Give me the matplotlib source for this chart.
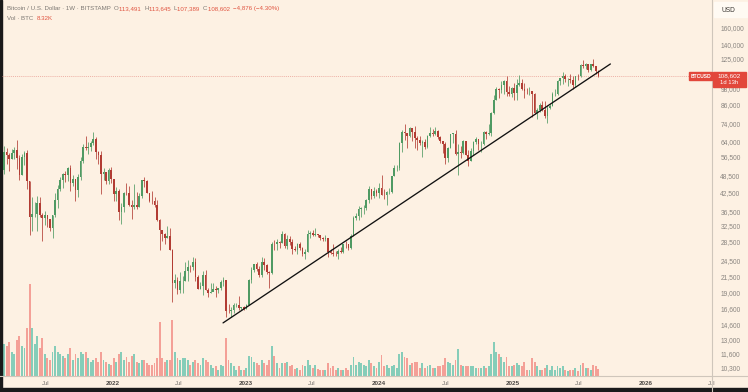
import numpy as np
import pandas as pd
import matplotlib
matplotlib.use("Agg")
import matplotlib.pyplot as plt
import matplotlib.dates as mdates

plt.rcParams['font.family'] = ['Liberation Sans', 'DejaVu Sans']

# ---------------- data (weekly BTC/USD, Bitstamp) ----------------
first_week = "2021-03-01"
first_open = 45200

closes = [
    # 2021 (from Mar 1)
    50950, 59000, 57500, 55800, 58200, 59800, 56200, 49000, 56600, 58200,
    46400, 34700, 35600, 35800, 39000, 35500, 34500, 35300, 34200, 31800,
    35400, 39900, 43800, 47000, 49300, 48800, 51700, 46000, 47300, 43200,
    48200, 54700, 61500, 60900, 61300, 63300, 65500, 58600, 57300, 49400,
    50100, 46700, 50800, 47300,
    # 2022
    41800, 43100, 36300, 37900, 42400, 42200, 38400, 37700, 38400, 37800,
    41300, 46800, 46400, 42200, 39700, 39500, 38500, 34000, 31300, 30300,
    29400, 29900, 26600, 20500, 21000, 19300, 20800, 20800, 22600, 23300,
    23200, 24300, 21500, 19550, 19990, 21800, 19400, 18800, 19050, 19450,
    19270, 19570, 20630, 20900, 16300, 16280, 16450, 17100, 17100, 16740,
    16840, 16610,
    # 2023
    17130, 20880, 22700, 23750, 22940, 21800, 24300, 23550, 22430, 22160,
    28000, 27990, 28460, 28330, 30300, 27590, 29250, 28440, 26920, 26750,
    28070, 27100, 25850, 26340, 30470, 30590, 30170, 30250, 30080, 29280,
    29050, 29300, 26190, 26010, 25870, 25840, 26530, 26260, 27980, 27930,
    27150, 29990, 34530, 35010, 37060, 37360, 37450, 39970, 43780, 41370,
    43000, 42280,
    # 2024
    43950, 41730, 41580, 42580, 42580, 48300, 51660, 51730, 63100, 68950,
    68400, 67200, 71300, 69400, 65700, 64950, 63100, 63900, 61500, 66900,
    68500, 67760, 69650, 66650, 64260, 62680, 55860, 60800, 68150, 68250,
    58100, 58700, 58400, 64200, 57300, 54800, 59200, 63600, 65600, 62800,
    62900, 69000, 67900, 68800, 80400, 89800, 97900, 97300, 101200, 104500,
    95100, 93700, 98300,
    # 2025
    94500, 101300, 102600, 97700, 96500, 96100, 96300, 94300, 80700, 82600,
    86100, 82400, 78400, 83800, 85200, 93700, 94300, 104100, 106500, 109000,
    105700, 105700, 105500, 101000, 108400, 108200, 119100, 117300, 119400, 114200,
    119300, 117500, 113491, 108602,
]

highs = [
    52600, 61700, 60600, 58500, 60200, 61200, 64800, 57500, 57900, 59500,
    59600, 46600, 40800, 39400, 41300, 41000, 36000, 36600, 35100, 34000,
    35400, 42200, 45000, 48100, 49500, 50500, 52000, 52900, 48800, 47400,
    49200, 56500, 62900, 67000, 63700, 64200, 69000, 66300, 59300, 59100,
    51900, 50000, 51900, 52000,
    47500, 44400, 43500, 38900, 42600, 45800, 44700, 39800, 45400, 42500,
    42400, 46900, 48200, 47000, 41500, 42900, 40800, 40000, 34400, 31300,
    30600, 32300, 31800, 26900, 21900, 21500, 22400, 21600, 24200, 24600,
    23700, 25200, 25000, 21800, 20600, 22500, 22800, 19700, 20400, 20500,
    19900, 19700, 21000, 21450, 21000, 17200, 16800, 17400, 17400, 18400,
    16900, 16950,
    17200, 21200, 23300, 23900, 24250, 23400, 25250, 25100, 23900, 22600,
    28500, 28900, 29100, 28700, 31000, 30500, 30000, 29800, 29100, 27600,
    28200, 28450, 27300, 26800, 31400, 31000, 31400, 31800, 30400, 30000,
    29700, 30200, 29500, 26800, 28100, 26400, 26900, 27400, 28000, 28600,
    27900, 30300, 35200, 35900, 38000, 37900, 38400, 40200, 44700, 43400,
    44300, 43800,
    45900, 49000, 43600, 42800, 43900, 48600, 52800, 52900, 64000, 70000,
    73800, 68000, 71800, 71300, 72800, 66800, 67200, 64700, 65500, 67700,
    71900, 70600, 71950, 70200, 66900, 63400, 63800, 61400, 68300, 68500,
    70000, 62700, 61800, 65000, 64500, 59800, 60600, 64100, 66500, 64800,
    64400, 69500, 69500, 73600, 81500, 93500, 99600, 98900, 104000, 105200,
    108300, 99900, 99200,
    102700, 106000, 109400, 106400, 102500, 98800, 99500, 96500, 95000, 84000,
    87500, 88800, 88500, 86000, 86400, 95700, 97900, 104800, 107100, 111900,
    110700, 106800, 110600, 108900, 108500, 110500, 119500, 123200, 120200, 120000,
    119400, 124400, 117600, 113645,
]

lows = [
    45000, 49300, 53300, 50400, 55500, 55600, 51500, 47000, 48800, 53000,
    43800, 30000, 31200, 34800, 31000, 34900, 28800, 32700, 32100, 31000,
    29300, 34900, 37500, 42800, 44000, 46300, 46500, 43000, 44700, 39600,
    40800, 47100, 53900, 59700, 58000, 59500, 62300, 55600, 53300, 42000,
    46800, 45600, 45600, 45700,
    39700, 39700, 34000, 32900, 36200, 41700, 38000, 34300, 37100, 37200,
    37600, 40500, 44200, 42100, 39200, 38600, 37700, 33700, 26700, 28700,
    28000, 29300, 26600, 17600, 19700, 18700, 18800, 18900, 20800, 20700,
    22400, 22700, 20800, 19500, 19500, 18500, 19300, 18200, 18800, 19100,
    18200, 18900, 19300, 20000, 15500, 16000, 15480, 16000, 16900, 16500,
    16400, 16400,
    16600, 17100, 20400, 22300, 22600, 21400, 21500, 22800, 21900, 19600,
    21900, 26600, 26600, 27200, 28200, 27100, 27000, 27700, 25800, 26400,
    25900, 26600, 25400, 24800, 26300, 29500, 29800, 29900, 29600, 28900,
    28600, 28700, 25200, 25800, 25400, 25400, 24900, 26000, 26000, 27200,
    26600, 26800, 29900, 33900, 34100, 34800, 35700, 36900, 39000, 40200,
    40500, 41400,
    40600, 41500, 40300, 38500, 41900, 42300, 48400, 50600, 50800, 59000,
    64600, 60800, 66600, 64500, 61000, 59700, 62400, 56500, 60200, 60700,
    66600, 66700, 67600, 65100, 63400, 58400, 53500, 54300, 60600, 63500,
    57200, 49000, 56100, 57800, 57200, 52500, 54600, 57600, 62700, 59800,
    58900, 62400, 65100, 67500, 66800, 80200, 89400, 90800, 94700, 94300,
    92300, 92500, 91500,
    89300, 89300, 100000, 97200, 91200, 94100, 93400, 78200, 80000, 76600,
    81300, 81600, 77100, 74500, 83100, 85100, 92800, 93400, 100700, 102100,
    103100, 100400, 102600, 98200, 99800, 105100, 107500, 115700, 114700, 112000,
    112700, 116800, 110700, 107389,
]

volumes_k = [
    45, 40, 38, 42, 30, 28, 45, 50, 38, 35, 60, 115, 60, 40, 50, 35, 48, 28, 22, 20,
    30, 38, 30, 28, 25, 22, 28, 35, 20, 28, 22, 30, 28, 30, 22, 18, 20, 22, 18, 30,
    20, 18, 15, 14,
    22, 18, 28, 30, 20, 24, 18, 25, 28, 18, 16, 20, 20, 16, 14, 14, 16, 22, 68, 22,
    18, 20, 20, 70, 30, 22, 20, 22, 22, 20, 14, 18, 20, 16, 14, 22, 20, 18, 14, 10,
    12, 8, 14, 12, 48, 20, 16, 12, 8, 12, 7, 8,
    10, 25, 24, 18, 16, 14, 20, 16, 14, 20, 38, 25, 16, 10, 16, 16, 18, 12, 14, 9,
    10, 8, 14, 12, 20, 14, 10, 14, 9, 8, 8, 7, 16, 10, 12, 8, 10, 8, 8, 10,
    8, 14, 24, 14, 18, 16, 14, 12, 20, 16, 12, 10,
    18, 26, 12, 14, 10, 12, 14, 10, 28, 30, 24, 22, 14, 16, 18, 18, 10, 16, 10, 12,
    14, 10, 10, 12, 12, 14, 22, 18, 16, 14, 20, 34, 14, 12, 12, 12, 12, 12, 10, 10,
    10, 12, 10, 12, 28, 42, 30, 28, 24, 18, 24, 12, 12,
    14, 16, 14, 12, 18, 8, 8, 22, 18, 12, 8, 8, 10, 14, 7, 12, 8, 12, 10, 12,
    8, 6, 8, 8, 10, 6, 14, 16, 10, 10, 8, 14, 12, 8.32,
]

y_ticks = [160000, 140000, 125000, 98000, 86000, 74000, 64000, 56500,
           48500, 42500, 36500, 32500, 28500, 24500, 21500, 19000, 16600,
           14600, 13000, 11600, 10300]
x_tick_dates = ["2021-07-01", "2022-01-01", "2022-07-01", "2023-01-01", "2023-07-01",
                "2024-01-01", "2024-07-01", "2025-01-01", "2025-07-01", "2026-01-01",
                "2026-07-01"]
x_tick_labels = ["Jul", "2022", "Jul", "2023", "Jul", "2024", "Jul", "2025", "Jul", "2026", "Jul"]

trend_dates = ["2022-10-30", "2025-09-27"]
trend_prices = [14820, 119700]

last_price = 108602
header_main = "Bitcoin / U.S. Dollar · 1W · BITSTAMP  "
header_ohlc = [("O", "113,491"), ("H", "113,645"), ("L", "107,389"), ("C", "108,602")]
header_change = "−4,876 (−4.30%)"
vol_label = "Vol · BTC  "
vol_value = "8.32K"

# ---------------- build ----------------
n = len(closes)
dates = pd.date_range(first_week, periods=n, freq="7D")
x = mdates.date2num(dates)
closes_a = np.array(closes, float)
opens_a = np.concatenate([[first_open], closes_a[:-1]])
highs_a = np.array(highs, float)
lows_a = np.array(lows, float)
vols = np.array(volumes_k, float)
up = closes_a >= opens_a

UP_C, DN_C = "#4f9a63", "#b23c33"
VUP_C, VDN_C = "#86cdb9", "#f4a097"
BG = "#fdf1e3"
TXT = "#8a8580"

W, H = 748, 392
fig = plt.figure(figsize=(W / 100, H / 100), dpi=100, facecolor=BG)

ax_l, ax_r, ax_t, ax_b = 2, 712, 0, 376
ax = fig.add_axes([ax_l / W, 1 - ax_b / H, (ax_r - ax_l) / W, (ax_b - ax_t) / H])
axv = ax.twinx()
ax.set_zorder(axv.get_zorder() + 1)
ax.patch.set_visible(False)
axv.set_facecolor(BG)

# volume
axv.bar(x, vols, width=5.2, color=np.where(up, VUP_C, VDN_C), linewidth=0)
axv.set_ylim(0, vols.max() * 376 / 92)
axv.set_yticks([])

# candles
ax.set_yscale("log")
body_lo = np.minimum(opens_a, closes_a)
body_hi = np.maximum(opens_a, closes_a)
body_hi = np.maximum(body_hi, body_lo * 1.003)
cols = np.where(up, UP_C, DN_C)
ax.vlines(x, lows_a, highs_a, colors=cols, linewidth=0.55, zorder=3)
ax.bar(x, body_hi - body_lo, bottom=body_lo, width=4.6, color=cols, linewidth=0, zorder=4)

# trend line
tx = mdates.date2num(pd.to_datetime(trend_dates))
ax.plot(tx, trend_prices, color="#111111", lw=0.95, zorder=6, solid_capstyle="round")

# price line
ax.axhline(last_price, color="#e89a90", lw=0.5, ls=(0, (1.5, 1.5)), zorder=2)

# limits: pixel mapping
d2022 = mdates.date2num(pd.Timestamp("2022-01-01"))
px_per_day = 133 / 365.0
ax.set_xlim(d2022 + (ax_l - 113) / px_per_day, d2022 + (ax_r - 113) / px_per_day)
ppd = 285.4
ax.set_ylim(10 ** (np.log10(160000) - (ax_b - 28) / ppd), 10 ** (np.log10(160000) + (28 - ax_t) / ppd))
axv.set_xlim(ax.get_xlim())

for a in (ax, axv):
    for s in a.spines.values():
        s.set_visible(False)

ax.yaxis.tick_right()
ax.set_yticks(y_ticks)
ax.set_yticklabels([f"{v:,}" for v in y_ticks])
ax.yaxis.set_minor_locator(matplotlib.ticker.NullLocator())
ax.tick_params(axis="y", length=0, pad=6, labelsize=4.8, labelcolor=TXT)
for lab in ax.get_yticklabels():
    lab.set_horizontalalignment("left")

ax.set_xticks(mdates.date2num(pd.to_datetime(x_tick_dates)))
ax.set_xticklabels(x_tick_labels)
ax.tick_params(axis="x", length=0, pad=3.5, labelsize=4.6, labelcolor="#6e6a66")
for lab in ax.get_xticklabels():
    if lab.get_text() != "Jul":
        lab.set_fontweight("bold")
        lab.set_color("#4e4a46")
    else:
        lab.set_fontsize(4.2)

# separators and frame
fig.add_artist(plt.Line2D([ax_r / W, ax_r / W], [0, 1], color="#cfc6bb", lw=0.8))
fig.add_artist(plt.Line2D([0, 1], [1 - ax_b / H, 1 - ax_b / H], color="#cfc6bb", lw=0.8))
fig.add_artist(plt.Rectangle((0, 0), 2 / W, 1, color="#1a1a1a", transform=fig.transFigure))
fig.add_artist(plt.Rectangle((0, 0), 1, 4 / H, color="#1a1a1a", transform=fig.transFigure))

# USD label
fig.add_artist(plt.Rectangle((714 / W, 1 - 17 / H), 33 / W, 15 / H, color="#fffaf3",
                             transform=fig.transFigure))
fig.text(728 / W, 1 - 10 / H, "USD", fontsize=4.8, color="#3a3632", ha="center", va="center")

# price labels
fig.add_artist(plt.Rectangle((689 / W, 1 - 79.5 / H), 23 / W, 7 / H, color="#e2473b",
                             transform=fig.transFigure, zorder=10))
fig.text(700.5 / W, 1 - 76 / H, "BTCUSD", fontsize=3.6, color="white", ha="center",
         va="center", zorder=11, fontweight="bold")
fig.add_artist(plt.Rectangle((713 / W, 1 - 87 / H), 33 / W, 15 / H, color="#e2473b",
                             transform=fig.transFigure, zorder=10))
fig.text(729.5 / W, 1 - 76 / H, f"{last_price:,}", fontsize=4.6, color="white",
         ha="center", va="center", zorder=11)
fig.text(729.5 / W, 1 - 83 / H, "1d 13h", fontsize=4.2, color="white",
         ha="center", va="center", zorder=11)

# header (chained pieces)
hdr_fs = 4.4
gray_c, red_c = "#7d7873", "#e0533f"
pieces1 = [(header_main, gray_c)]
for k, v in header_ohlc:
    pieces1 += [(k, gray_c), (v + "  ", red_c)]
pieces1 += [(header_change, red_c)]
prev = fig.text(7 / W, 1 - 10 / H, pieces1[0][0], fontsize=hdr_fs, color=pieces1[0][1],
                va="baseline")
for s, c in pieces1[1:]:
    prev = ax.annotate(s, xy=(1, 0), xycoords=prev, fontsize=hdr_fs, color=c, va="bottom",
                       annotation_clip=False)
prev = fig.text(7 / W, 1 - 20 / H, vol_label, fontsize=hdr_fs, color=gray_c, va="baseline")
ax.annotate(vol_value, xy=(1, 0), xycoords=prev, fontsize=hdr_fs, color=red_c, va="bottom",
            annotation_clip=False)

fig.savefig("out.png", dpi=100, facecolor=BG)
